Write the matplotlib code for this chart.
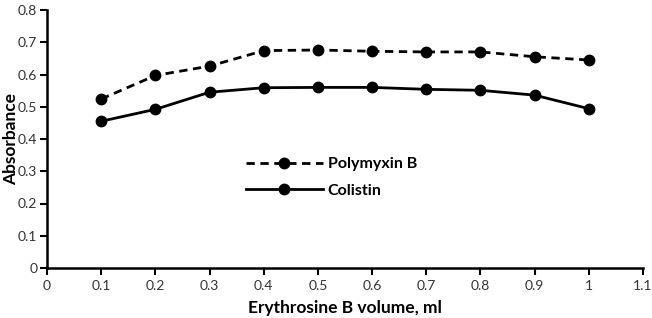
import matplotlib.pyplot as plt

volume = [0.1, 0.2, 0.3, 0.4, 0.5, 0.6, 0.7, 0.8, 0.9, 1.0]
polymyxin_b = [0.524, 0.597, 0.626, 0.674, 0.676, 0.672, 0.670, 0.670, 0.655, 0.645]
colistin = [0.455, 0.492, 0.545, 0.559, 0.560, 0.560, 0.554, 0.551, 0.536, 0.494]

x_ticks = [0, 0.1, 0.2, 0.3, 0.4, 0.5, 0.6, 0.7, 0.8, 0.9, 1, 1.1]
x_tick_labels = ["0", "0.1", "0.2", "0.3", "0.4", "0.5", "0.6", "0.7", "0.8", "0.9", "1", "1.1"]
y_ticks = [0, 0.1, 0.2, 0.3, 0.4, 0.5, 0.6, 0.7, 0.8]
y_tick_labels = ["0", "0.1", "0.2", "0.3", "0.4", "0.5", "0.6", "0.7", "0.8"]

plt.rcParams["font.family"] = ["Lato", "DejaVu Sans"]

fig = plt.figure(figsize=(6.52, 3.18), dpi=100)
ax = fig.add_axes([47 / 652, 50 / 318, 596 / 652, 258 / 318])

ax.plot(volume, polymyxin_b, "--", color="black", lw=2, marker="o", ms=7.5,
        dashes=(3, 2), label="Polymyxin B")
ax.plot(volume, colistin, "-", color="black", lw=2, marker="o", ms=7.5,
        label="Colistin")

ax.set_xlim(0, 1.1)
ax.set_ylim(0, 0.8)
ax.set_xticks(x_ticks)
ax.set_xticklabels(x_tick_labels)
ax.set_yticks(y_ticks)
ax.set_yticklabels(y_tick_labels)

for side in ("top", "right"):
    ax.spines[side].set_visible(False)
for side in ("left", "bottom"):
    ax.spines[side].set_linewidth(1.8)
ax.tick_params(axis="both", direction="out", length=5, width=1.5,
               labelsize=10, colors="black", labelcolor="#333333")
ax.tick_params(axis="y", pad=2)

ax.set_xlabel("Erythrosine B volume, ml", fontsize=12.5, fontweight="bold", labelpad=6)
ax.set_ylabel("Absorbance", fontsize=12.5, fontweight="bold")
ax.yaxis.set_label_coords(-0.047, 0.5)

leg = ax.legend(loc="upper left", bbox_to_anchor=(0.31, 0.485), frameon=False,
                handlelength=4.8, fontsize=11.5, labelspacing=0.75, handletextpad=0.3)
for t in leg.get_texts():
    t.set_fontweight("bold")

fig.savefig("out.png", dpi=100)
